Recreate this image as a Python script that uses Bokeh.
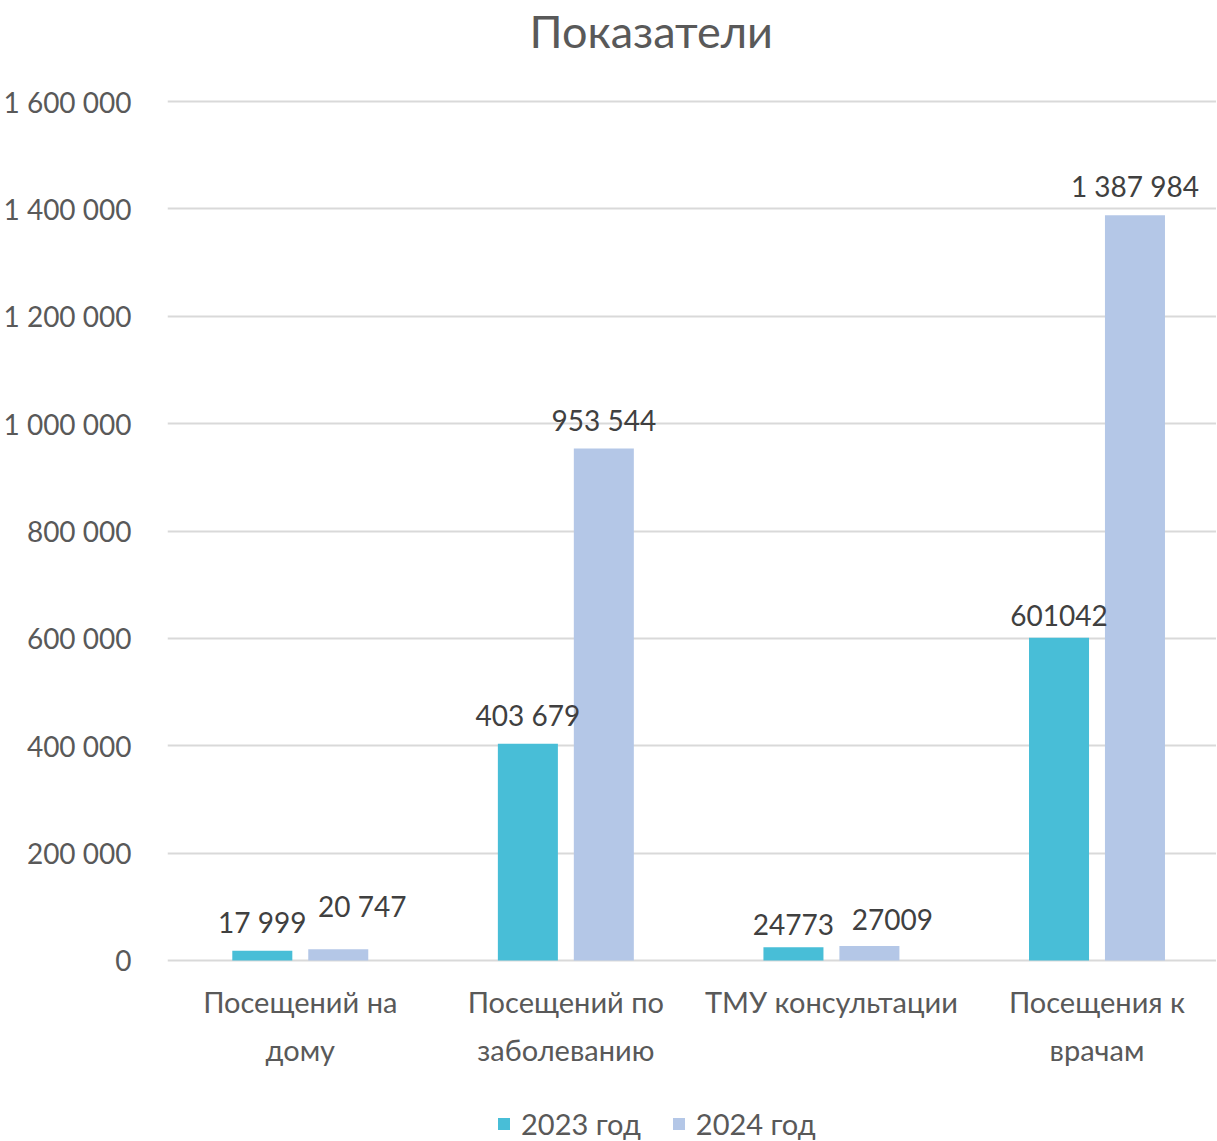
from bokeh.plotting import figure
from bokeh.models import Range1d, Legend, LegendItem, ColumnDataSource, FixedTicker, Title
from bokeh.core.properties import value
from bokeh.embed import file_html
from bokeh.resources import INLINE

categories = ["Посещений на\nдому", "Посещений по\nзаболеванию", "ТМУ консультации", "Посещения к\nврачам"]
series_names = ["2023 год", "2024 год"]
values_2023 = [17999, 403679, 24773, 601042]
values_2024 = [20747, 953544, 27009, 1387984]
labels_2023 = ["17 999", "403 679", "24773", "601042"]
labels_2024 = ["20 747", "953 544", "27009", "1 387 984"]
yticks = [0, 200000, 400000, 600000, 800000, 1000000, 1200000, 1400000, 1600000]
ytick_labels = ["0", "200 000", "400 000", "600 000", "800 000", "1 000 000", "1 200 000", "1 400 000", "1 600 000"]

# styling
FONT = "Lato"
C2023 = "#48BED7"
C2024 = "#B4C7E7"
TXT = "#595959"
LBL = "#404040"
# label nudges (px) for readability, as in the original
lx_2023 = [0, 0, 0, 0]
ly_2023 = [0, 0, 0, 0]
lx_2024 = [24, 0, 23, 0]
ly_2024 = [-14, 0, -4, 0]

xc = [i + 0.5 for i in range(len(categories))]
off = 0.143
bw = 0.226

FRAME_H = 1043
UNITS_PER_PX = 1611200 / 865
y_top = 1605600
y_bottom = y_top - FRAME_H * UNITS_PER_PX

p = figure(frame_width=1049, frame_height=FRAME_H, output_backend="svg", toolbar_location=None,
           x_range=Range1d(0, 3.95), y_range=Range1d(y_bottom, y_top),
           min_border_left=160, min_border_right=0, min_border_top=0, min_border_bottom=0,
           title_location=None)
p.outline_line_color = None
p.background_fill_color = "white"
p.border_fill_color = "white"

src1 = ColumnDataSource(dict(x=[v - off for v in xc], top=values_2023, lab=labels_2023, xo=lx_2023, yo=[-12 + d for d in ly_2023]))
src2 = ColumnDataSource(dict(x=[v + off for v in xc], top=values_2024, lab=labels_2024, xo=lx_2024, yo=[-12 + d for d in ly_2024]))

r1 = p.vbar(x="x", top="top", width=bw, bottom=0, source=src1, color=C2023, line_color=None)
r2 = p.vbar(x="x", top="top", width=bw, bottom=0, source=src2, color=C2024, line_color=None)

for s in (src1, src2):
    p.text(x="x", y="top", text="lab", source=s, x_offset="xo", y_offset="yo",
           text_font=value(FONT), text_font_size="28px", text_color=LBL,
           text_align="center", text_baseline="bottom")

# category labels under the baseline
cat_src = ColumnDataSource(dict(x=xc, y=[0] * len(xc), lab=categories))
p.text(x="x", y="y", text="lab", source=cat_src, y_offset=24,
       text_font=value(FONT), text_font_size="29px", text_color=TXT,
       text_align="center", text_baseline="top", text_line_height=1.35)

p.yaxis.ticker = FixedTicker(ticks=yticks)
p.yaxis.major_label_overrides = {t: l for t, l in zip(yticks, ytick_labels)}
p.yaxis.axis_line_color = None
p.yaxis.major_tick_line_color = None
p.yaxis.minor_tick_line_color = None
p.yaxis.major_label_standoff = 30
p.yaxis.major_label_text_font = FONT
p.yaxis.major_label_text_font_size = "28px"
p.yaxis.major_label_text_color = TXT

p.xaxis.visible = False

p.xgrid.grid_line_color = None
p.ygrid.ticker = FixedTicker(ticks=yticks)
p.ygrid.grid_line_color = "#D9D9D9"
p.ygrid.grid_line_width = 2

spacer = Title(text=" ", text_font_size="22px", text_font=FONT)
title = Title(text="Показатели", align="left", offset=362, text_font=FONT,
              text_font_size="45px", text_font_style="normal", text_color=TXT)
try:
    title.standoff = 3
except Exception:
    pass
p.add_layout(spacer, "above")
p.add_layout(title, "above")

legend = Legend(items=[LegendItem(label=series_names[0], renderers=[r1]),
                       LegendItem(label=series_names[1], renderers=[r2])],
                orientation="horizontal", location=(329, 0),
                label_text_font=FONT, label_text_font_size="29px", label_text_color=TXT,
                glyph_width=15, glyph_height=15, label_standoff=10, spacing=30,
                border_line_color=None, background_fill_alpha=0, margin=0, padding=0)
p.add_layout(legend, "center")

open("out.html", "w").write(file_html(p, INLINE))
